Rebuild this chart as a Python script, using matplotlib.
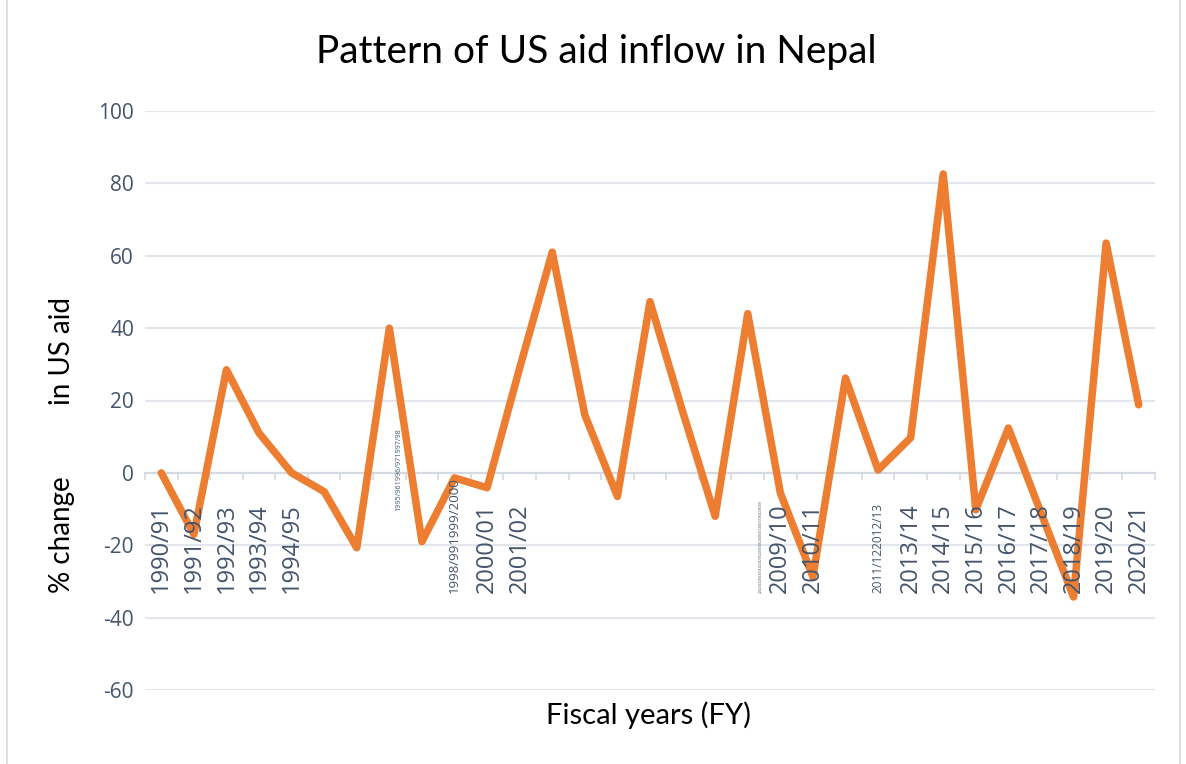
import matplotlib
matplotlib.use("Agg")
import matplotlib.pyplot as plt
from matplotlib.lines import Line2D
import numpy as np

# Fiscal years on the category axis
fiscal_years = [
    "1990/91", "1991/92", "1992/93", "1993/94", "1994/95", "1995/96",
    "1996/97", "1997/98", "1998/99", "1999/2000", "2000/01", "2001/02",
    "2002/03", "2003/04", "2004/05", "2005/06", "2006/07", "2007/08",
    "2008/09", "2009/10", "2010/11", "2011/12", "2012/13", "2013/14",
    "2014/15", "2015/16", "2016/17", "2017/18", "2018/19", "2019/20",
    "2020/21",
]

# Year-on-year % change in US aid
pct_change = [
    0.0, -17.0, 28.5, 11.0, 0.0, -5.2,
    -20.7, 40.0, -19.0, -1.4, -4.1, 29.0,
    61.0, 16.0, -6.5, 47.3, 17.0, -12.0,
    44.0, -5.5, -28.7, 26.2, 0.8, 9.7,
    82.6, -10.2, 12.4, -11.0, -34.3, 63.5,
    18.8,
]

# Category labels as printed under the axis (some years share one label)
axis_labels = [
    "1990/91", "1991/92", "1992/93", "1993/94", "1994/95", "",
    "", "1995/961996/971997/98", "", "1998/991999/2000", "2000/01", "2001/02",
    "", "", "", "", "", "",
    "2002/032003/042004/052005/062006/072007/082008/09", "2009/10", "2010/11", "", "2011/122012/13", "2013/14",
    "2014/15", "2015/16", "2016/17", "2017/18", "2018/19", "2019/20",
    "2020/21",
]
label_sizes = [
    17, 17, 17, 17, 17, 17,
    17, 5.2, 17, 9.5, 17, 17,
    17, 17, 17, 17, 17, 17,
    2.5, 17, 17, 17, 8.5, 17,
    17, 17, 17, 17, 17, 17,
    17,
]

y_ticks = [-60, -40, -20, 0, 20, 40, 60, 80, 100]

TEXT_DARK = "#44546A"
GRID = "#E3E6EC"
ORANGE = "#ED7D31"

fig = plt.figure(figsize=(11.86, 7.64), dpi=100)
fig.patch.set_facecolor("white")
ax = fig.add_axes([145 / 1186, 1 - 690 / 764, 1010 / 1186, 579 / 764])

x = np.arange(len(fiscal_years))
ax.set_xlim(-0.5, len(fiscal_years) - 0.5)
ax.set_ylim(-60, 100)

# horizontal gridlines
ax.set_yticks(y_ticks)
ax.set_yticklabels([str(v) for v in y_ticks], fontsize=15, color=TEXT_DARK,
                   family="Open Sans")
ax.tick_params(axis="y", length=0, pad=8)
ax.grid(axis="y", color=GRID, linewidth=1.5, zorder=0)
for s in ["left", "right", "top"]:
    ax.spines[s].set_visible(False)

# category axis crossing at zero with tick marks between categories
ax.spines["bottom"].set_position(("data", 0))
ax.spines["bottom"].set_color("#D5D9E1")
ax.spines["bottom"].set_linewidth(1.5)
ax.set_xticks(np.arange(-0.5, len(fiscal_years)), minor=False)
ax.set_xticklabels([])
ax.tick_params(axis="x", direction="out", length=5, width=1.2, color="#D5D9E1")

ax.plot(x, pct_change, color=ORANGE, linewidth=5.4, solid_joinstyle="round",
        solid_capstyle="round", zorder=3)

# rotated category labels, bottom-aligned
for i, (lab, fs) in enumerate(zip(axis_labels, label_sizes)):
    if not lab:
        continue
    xpos, ybase = i, -33.2
    if i == 7:
        xpos, ybase = i + 0.3, -10.5
    if i == 18:
        xpos = i + 0.4
    ax.text(xpos, ybase, lab, rotation=90, ha="center", va="bottom",
            fontsize=fs, color=TEXT_DARK, family="Open Sans", zorder=4)

fig.text(596 / 1186, 1 - 52 / 764, "Pattern of US aid inflow in Nepal",
         ha="center", va="center", fontsize=28, family="Lato", color="black")
fig.text(649 / 1186, 1 - 715 / 764, "Fiscal years (FY)", ha="center",
         va="center", fontsize=21, family="Lato", color="black")
fig.text(62 / 1186, 1 - 445 / 764, "% change          in US aid",
         rotation=90, ha="center", va="center", fontsize=20, family="Lato",
         color="black")

# chart-area frame edges
for xf in (7 / 1186, 1180 / 1186):
    fig.add_artist(Line2D([xf, xf], [0, 1], transform=fig.transFigure,
                          color="#D9D9D9", linewidth=1.2))

fig.savefig("out.png", dpi=100, facecolor="white")
